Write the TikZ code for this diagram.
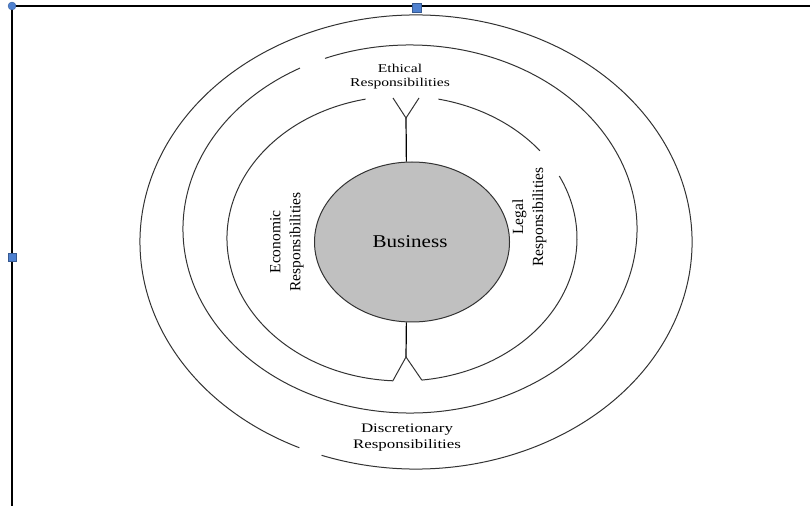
\documentclass[tikz,border=0pt]{standalone}
\usepackage{fontspec}
\setmainfont{Liberation Serif}
\usetikzlibrary{shapes.geometric}
\definecolor{ringc}{HTML}{333333}
\definecolor{handle}{HTML}{4F81D0}
\definecolor{bizfill}{HTML}{C0C0C0}
\begin{document}
\begin{tikzpicture}[x=1pt,y=1pt,
  ring/.style={draw=ringc,line width=1pt},
  stem/.style={draw=black,line width=1.2pt},
  hlabel/.style={align=center,inner sep=0pt,xscale=1.3,font=\fontsize{12}{14}\selectfont},
  vlabel/.style={align=center,inner sep=0pt,rotate=90,font=\fontsize{15.5}{20}\selectfont},
  frame/.style={draw=black,line width=2.8pt},
  hnd/.style={fill=handle,draw=handle!70!black,line width=0.3pt}]
\useasboundingbox (0,0) rectangle (810,506);
% frame
\coordinate (ftl) at (12,500);
\coordinate (ftr) at (810,500);
\coordinate (fbl) at (12,0);
\draw[frame] (ftr) -- (ftl) -- (fbl);
\fill[hnd] (ftl) circle (4);
\fill[hnd] (412,494) rectangle (421,503);
\fill[hnd] (8,245) rectangle (16,253);
% centres
\coordinate (c1) at (416,264);
\coordinate (c2) at (410,277);
\coordinate (c3) at (402,267.5);
% outer ring
\draw[ring] (c1) ++(250:276pt and 227pt) arc[start angle=250,end angle=605,x radius=276pt,y radius=227pt];
% second ring
\draw[ring] (c2) ++(119:227pt and 184pt) arc[start angle=119,end angle=472,x radius=227pt,y radius=184pt];
% third ring
\draw[ring] (c3) ++(102:175pt and 142.5pt) arc[start angle=102,end angle=267,x radius=175pt,y radius=142.5pt];
\draw[ring] (c3) ++(276.5:175pt and 142.5pt) arc[start angle=276.5,end angle=386,x radius=175pt,y radius=142.5pt];
\draw[ring] (c3) ++(38:175pt and 142.5pt) arc[start angle=38,end angle=78,x radius=175pt,y radius=142.5pt];
\path (c3) ++(267:175pt and 142.5pt) coordinate (t3a);
\path (c3) ++(276.5:175pt and 142.5pt) coordinate (t3b);
% business
\node[ellipse,draw=ringc,line width=1pt,fill=bizfill,minimum width=195pt,minimum height=160pt,inner sep=0pt] (biz) at (412,264) {};
\node[font=\fontsize{18}{20}\selectfont,inner sep=0pt] (biztext) at (410,264) {\scalebox{1.17}[1]{Business}};
% top Y
\coordinate (ty) at (406,388);
\coordinate (tya) at (393,408);
\coordinate (tyb) at (419,408);
\draw[stem] (biz.94) -- (ty);
\draw[ring] (tya) -- (ty) -- (tyb);
% bottom V
\coordinate (by) at (406,149);
\draw[stem] (biz.266) -- (by);
\draw[ring] (t3a) -- (by) -- (t3b);
% labels
\node[hlabel] (eth) at (400,429) {Ethical\\Responsibilities};
\node[hlabel,font=\fontsize{13}{16}\selectfont,xscale=1.0] (dis) at (407,68) {Discretionary\\Responsibilities};
\node[vlabel] (eco) at (287,264) {Economic\\Responsibilities};
\node[vlabel] (leg) at (529.5,289) {Legal\\Responsibilities};
\end{tikzpicture}
\end{document}
